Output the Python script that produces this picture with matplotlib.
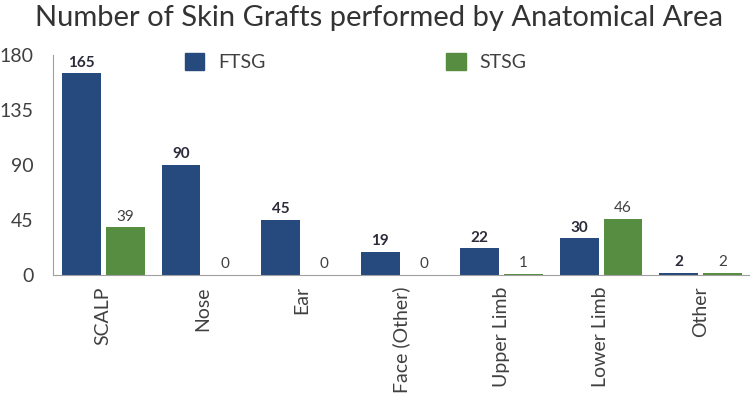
import matplotlib.pyplot as plt
import numpy as np
from matplotlib.patches import Patch

plt.rcParams['font.family'] = ['Lato', 'DejaVu Sans']

areas = ['SCALP', 'Nose', 'Ear', 'Face (Other)', 'Upper Limb', 'Lower Limb', 'Other']
ftsg = [165, 90, 45, 19, 22, 30, 2]
stsg = [39, 0, 0, 0, 1, 46, 2]

blue = '#264a7e'
green = '#568d40'
txt = '#404040'

fig = plt.figure(figsize=(7.5, 3.93), dpi=100)
ax = fig.add_axes([0.0707, 0.30, 0.9293, 0.56])

x = np.arange(len(areas))
w = 0.39
b1 = ax.bar(x - 0.215, ftsg, w, color=blue)
b2 = ax.bar(x + 0.225, stsg, w, color=green)

for r, v in zip(b1, ftsg):
    ax.text(r.get_x() + r.get_width() / 2, v + 3, str(v), ha='center', va='bottom',
            fontsize=11, fontweight='bold', color='#2b2b3a')
for r, v in zip(b2, stsg):
    ax.text(r.get_x() + r.get_width() / 2, v + 3, str(v), ha='center', va='bottom',
            fontsize=11, color=txt)

ax.set_xlim(-0.5, 6.5)
ax.set_ylim(0, 180)
ax.set_yticks([0, 45, 90, 135, 180])
ax.set_xticks(x)
ax.set_xticklabels(areas, rotation=90)
ax.tick_params(axis='y', length=0, pad=14, labelsize=14, labelcolor=txt)
ax.tick_params(axis='x', length=0, pad=8, labelsize=14, labelcolor=txt)

for s in ['top', 'right']:
    ax.spines[s].set_visible(False)
ax.spines['left'].set_color('#a0a0a0')
ax.spines['bottom'].set_color('#a0a0a0')

handles = [Patch(color=blue, label='FTSG'), Patch(color=green, label='STSG')]
ax.legend(handles=handles, ncol=2, frameon=False, loc='upper left',
          bbox_to_anchor=(0.164, 1.09), fontsize=14, handlelength=1.0,
          handleheight=1.0, handletextpad=0.7, columnspacing=9.3,
          labelcolor=txt)

fig.text(0.505, 0.955, 'Number of Skin Grafts performed by Anatomical Area',
         ha='center', va='center', fontsize=21, color='#333333')

plt.savefig('out.png', dpi=100)
